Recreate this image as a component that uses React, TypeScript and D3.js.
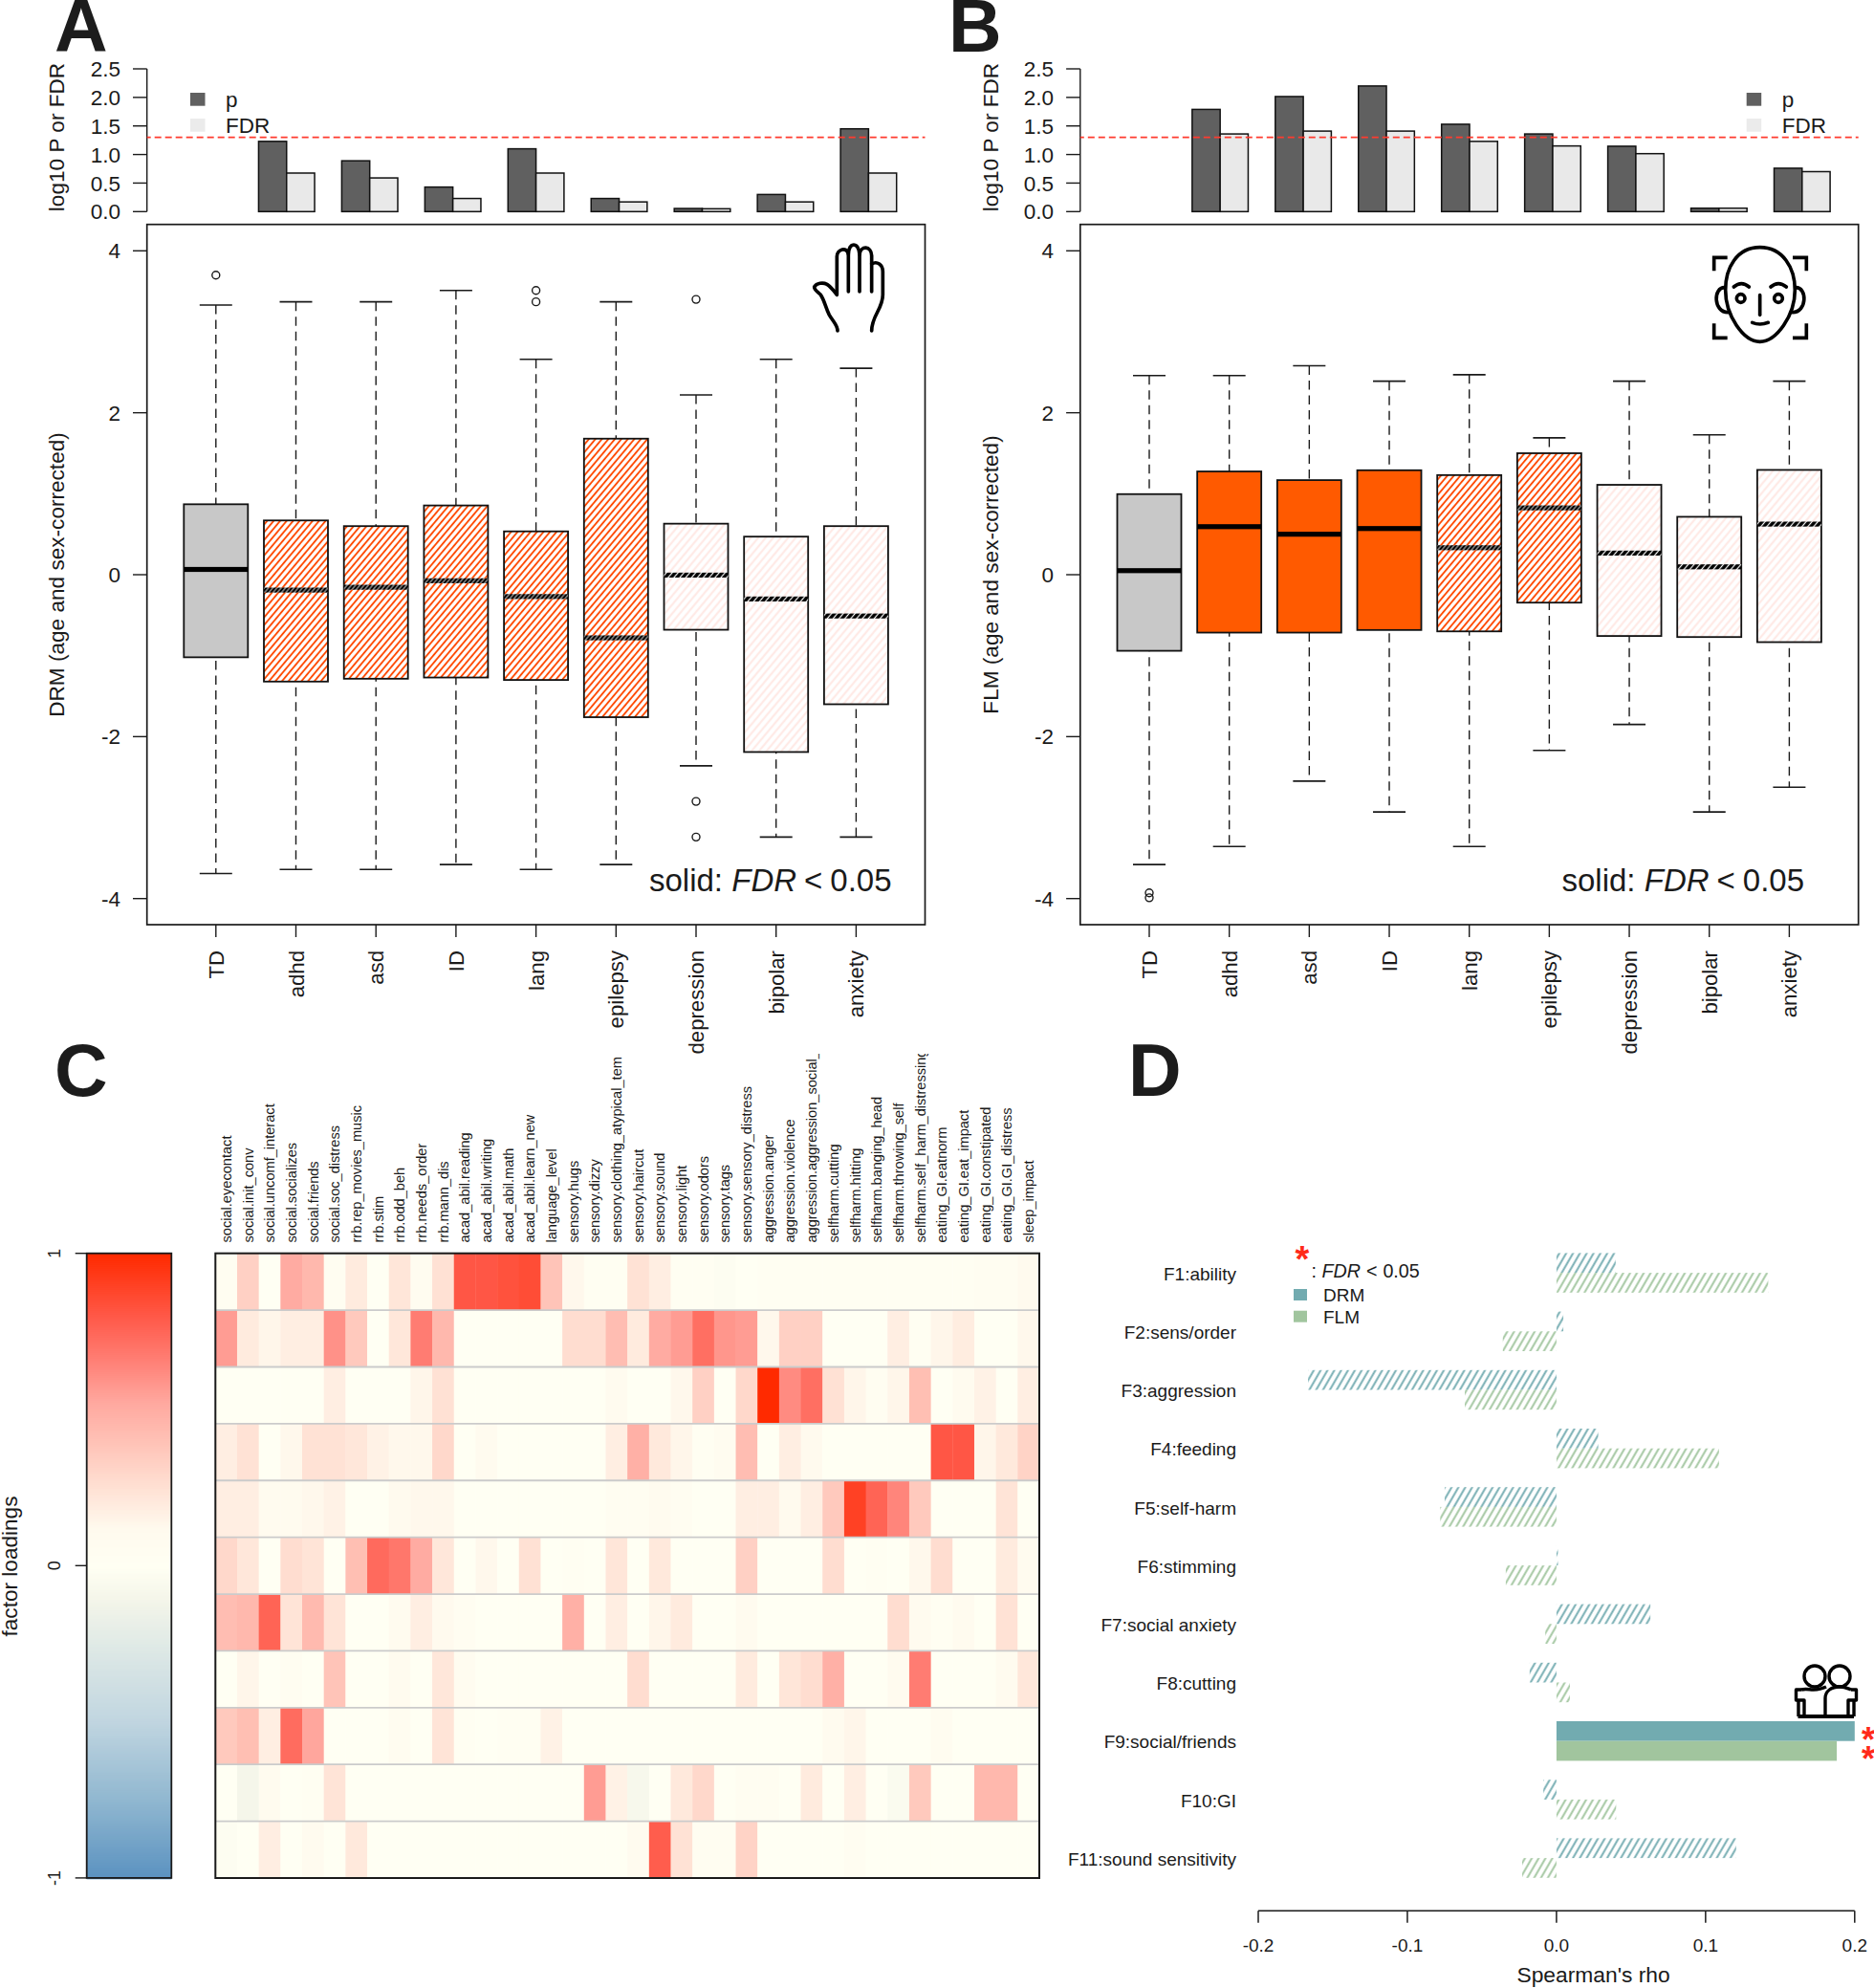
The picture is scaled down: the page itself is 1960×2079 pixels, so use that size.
import React from 'react';
import * as d3 from 'd3';

const W = 1960;
const H = 2079;
const FONT = '"Liberation Sans", Arial, sans-serif';
const INK = '#1a1a1a';
const ORANGE = '#ff5a00';

// panels A and B
const categories = ['TD', 'adhd', 'asd', 'ID', 'lang', 'epilepsy', 'depression', 'bipolar', 'anxiety'];

const drmP = [null, 1.23, 0.89, 0.43, 1.10, 0.23, 0.055, 0.30, 1.45];
const drmFdr = [null, 0.675, 0.59, 0.23, 0.675, 0.17, 0.05, 0.17, 0.675];
const flmP = [null, 1.79, 2.015, 2.2, 1.53, 1.36, 1.145, 0.06, 0.76];
const flmFdr = [null, 1.36, 1.41, 1.41, 1.23, 1.15, 1.015, 0.06, 0.70];

const drmUpper = [3.33, 3.37, 3.37, 3.51, 2.66, 3.37, 2.22, 2.66, 2.55];
const drmQ3 = [0.87, 0.67, 0.60, 0.855, 0.535, 1.68, 0.63, 0.47, 0.60];
const drmMedian = [0.065, -0.19, -0.155, -0.075, -0.27, -0.78, -0.005, -0.30, -0.51];
const drmQ1 = [-1.02, -1.32, -1.285, -1.27, -1.30, -1.76, -0.68, -2.19, -1.60];
const drmLower = [-3.69, -3.64, -3.64, -3.58, -3.64, -3.58, -2.36, -3.24, -3.24];
const drmOutliers = [[3.70], [], [], [], [3.51, 3.37], [], [3.40, -2.80, -3.24], [], []];
const drmStyle = ['ctrl', 'dense', 'dense', 'dense', 'dense', 'dense', 'faint', 'faint', 'faint'];

const flmUpper = [2.46, 2.46, 2.58, 2.39, 2.47, 1.69, 2.39, 1.727, 2.39];
const flmQ3 = [0.995, 1.275, 1.168, 1.29, 1.23, 1.50, 1.11, 0.715, 1.294];
const flmMedian = [0.05, 0.593, 0.50, 0.57, 0.333, 0.825, 0.267, 0.097, 0.625];
const flmQ1 = [-0.94, -0.715, -0.715, -0.683, -0.70, -0.345, -0.757, -0.77, -0.833];
const flmLower = [-3.58, -3.357, -2.55, -2.93, -3.357, -2.17, -1.85, -2.93, -2.625];
const flmOutliers = [[-3.93, -3.99], [], [], [], [], [], [], [], []];
const flmStyle = ['ctrl', 'solid', 'solid', 'solid', 'dense', 'dense', 'faint', 'faint', 'faint'];

const barTicks = [0, 0.5, 1, 1.5, 2, 2.5];
const boxTicks = [-4, -2, 0, 2, 4];

// panel C
const items = [
  'social.eyecontact', 'social.init_conv', 'social.uncomf_interact', 'social.socializes', 'social.friends',
  'social.soc_distress', 'rrb.rep_movies_music', 'rrb.stim', 'rrb.odd_beh', 'rrb.needs_order', 'rrb.mann_dis',
  'acad_abil.reading', 'acad_abil.writing', 'acad_abil.math', 'acad_abil.learn_new', 'language_level',
  'sensory.hugs', 'sensory.dizzy', 'sensory.clothing_atypical_tem', 'sensory.haircut', 'sensory.sound',
  'sensory.light', 'sensory.odors', 'sensory.tags', 'sensory.sensory_distress', 'aggression.anger',
  'aggression.violence', 'aggression.aggression_social_', 'selfharm.cutting', 'selfharm.hitting',
  'selfharm.banging_head', 'selfharm.throwing_self', 'selfharm.self_harm_distressing', 'eating_GI.eatnorm',
  'eating_GI.eat_impact', 'eating_GI.constipated', 'eating_GI.GI_distress', 'sleep_impact',
];

const loadF1 = [.04, .33, 0, .51, .45, .06, .2, 0, .225, .08, .25, .81, .81, .83, .85, .39, .13, .03, .03, .245, .18, .03, .03, -.02, 0, .02, .02, .02, .02, .02, .02, .02, .03, .02, .02, .06, .06, .11];
const loadF2 = [.565, .2, .14, .18, .18, .6, .365, 0, .22, .67, .45, 0, 0, 0, 0, 0, .27, .27, .425, .2, .51, .565, .72, .585, .565, .13, .33, .33, 0, 0, 0, .18, .02, .14, .19, 0, 0, .13];
const loadF3 = [0, 0, 0, 0, 0, .18, 0, 0, 0, .14, .25, 0, 0, 0, 0, 0, 0, 0, .1, 0, 0, .13, .33, 0, .295, 1, .62, .72, .25, .14, .04, .14, .415, 0, .1, .16, 0, .18];
const loadF4 = [.18, .245, 0, .13, .245, .245, .22, .16, .13, .13, .295, 0, .1, 0, 0, 0, 0, 0, .18, .485, .21, .14, .02, .08, .425, 0, .18, .11, 0, 0, 0, 0, 0, .81, .81, .14, .21, .32];
const loadF5 = [.18, .18, .1, .1, .13, .16, 0, 0, .11, .13, .13, 0, 0, 0, 0, 0, 0, 0, .04, .06, .1, .06, 0, 0, .18, .18, .11, .18, .365, .9, .76, .64, .365, 0, 0, 0, .235, 0];
const loadF6 = [.295, .22, 0, .27, .235, 0, .415, .735, .69, .51, .22, 0, .13, 0, .25, 0, .02, 0, .225, 0, .21, 0, 0, 0, .33, 0, 0, 0, .27, 0, .02, 0, .13, .27, 0, 0, .2, .1];
const loadF7 = [.425, .45, .76, .235, .44, .235, 0, 0, .1, .18, .11, .06, 0, 0, 0, 0, .485, 0, .18, 0, .14, .2, 0, 0, .1, 0, 0, 0, 0, 0, 0, .27, .1, .02, .1, 0, .245, 0];
const loadF8 = [0, .14, 0, .06, 0, .39, 0, 0, .1, 0, .22, .08, 0, 0, 0, 0, 0, 0, 0, .27, 0, 0, 0, 0, .2, 0, .225, .27, .485, 0, 0, .1, .67, 0, 0, 0, .1, .22];
const loadF9 = [.365, .415, .18, .73, .53, 0, 0, 0, .08, 0, .235, .02, 0, .02, .02, .16, 0, 0, 0, 0, 0, 0, 0, 0, 0, 0, 0, 0, .1, .14, 0, 0, 0, .08, 0, 0, 0, 0];
const loadF10 = [0, -.1, .1, 0, .02, .235, 0, 0, 0, 0, 0, 0, 0, 0, 0, 0, 0, .565, .16, -.08, 0, .21, .295, 0, .06, .06, 0, .2, 0, .18, 0, -.05, .365, 0, 0, .45, .45, 0];
const loadF11 = [-.02, 0, .18, 0, .1, 0, .21, 0, 0, 0, 0, 0, 0, 0, 0, 0, 0, 0, 0, .1, .785, .245, .04, .04, .32, 0, 0, 0, 0, .06, 0, 0, 0, 0, 0, 0, 0, 0];
const loadings = [loadF1, loadF2, loadF3, loadF4, loadF5, loadF6, loadF7, loadF8, loadF9, loadF10, loadF11];

// panel D
const factors = ['F1:ability', 'F2:sens/order', 'F3:aggression', 'F4:feeding', 'F5:self-harm', 'F6:stimming',
  'F7:social anxiety', 'F8:cutting', 'F9:social/friends', 'F10:GI', 'F11:sound sensitivity'];
const rhoDrm = [0.0397, 0.0046, -0.1666, 0.028, -0.075, 0.001, 0.063, -0.018, 0.2, -0.0088, 0.1205];
const rhoFlm = [0.142, -0.036, -0.0615, 0.109, -0.078, -0.034, -0.0075, 0.009, 0.188, 0.04, -0.023];
const rhoTicks = [-0.2, -0.1, 0, 0.1, 0.2];
const drmColor = '#72abb0';
const flmColor = '#a1c59e';

const heatColor = d3.scaleLinear<string>()
  .domain([-1, -0.75, -0.5, -0.25, -0.1, 0, 0.12, 0.255, 0.39, 0.525, 0.66, 0.795, 1])
  .range(['#5b92c0', '#90b7d0', '#c0d5e0', '#e0eae6', '#f5f6ea', '#fffff3', '#fffaee', '#ffe0d3', '#ffc4b8', '#ffa89f', '#ff7f75', '#ff5a4a', '#ff2a00']);

// R style tick labels use a plain hyphen
const fmt1 = (v: number) => d3.format('.1f')(v).replace('\u2212', '-');

function Hatch({ id, color, bg, gap, width, angle }: any) {
  return (
    <pattern id={id} patternUnits="userSpaceOnUse" width={gap} height={gap} patternTransform={`rotate(${angle})`}>
      <rect width={gap} height={gap} fill={bg} />
      <line x1={gap / 2} x2={gap / 2} y1={0} y2={gap} stroke={color} strokeWidth={width} />
    </pattern>
  );
}

function BarStrip({ left, right, groupStart, p, fdr, tickLen, labelGap, titleX, legendX }: any) {
  const y = d3.scaleLinear().domain([0, 2.5]).range([221.3, 72]);
  const x = d3.scalePoint<string>().domain(categories).range([groupStart, groupStart + 8 * 86.95]);
  const bw = 29.3;
  return (
    <g fontFamily={FONT} fill={INK}>
      <text transform={`translate(${titleX},143.5) rotate(-90)`} textAnchor="middle" fontSize={22.6}>log10 P or FDR</text>
      <line x1={left} x2={left} y1={y(0)} y2={y(2.5)} stroke={INK} strokeWidth={1.4} />
      {barTicks.map(t => (
        <g key={t}>
          <line x1={left - tickLen} x2={left} y1={y(t)} y2={y(t)} stroke={INK} strokeWidth={1.4} />
          <text x={left - labelGap} y={y(t)} dy=".36em" textAnchor="end" fontSize={22.5}>{fmt1(t)}</text>
        </g>
      ))}
      {categories.map((c, i) => p[i] == null ? null : (
        <g key={c} stroke="#111" strokeWidth={1.5}>
          <rect x={x(c)! - bw} width={bw} y={y(p[i])} height={y(0) - y(p[i])} fill="#606060" />
          <rect x={x(c)!} width={bw} y={y(fdr[i])} height={y(0) - y(fdr[i])} fill="#e9e9e9" />
        </g>
      ))}
      <line x1={left} x2={right} y1={y(1.3)} y2={y(1.3)} stroke="#ff3b2f" strokeWidth={1.9} strokeDasharray="7 4" strokeDashoffset={3} />
      <rect x={legendX} y={97} width={15.5} height={13.7} fill="#606060" />
      <rect x={legendX} y={124} width={15.5} height={13.7} fill="#ebebeb" />
      <text x={legendX + 37} y={112} fontSize={22.5}>p</text>
      <text x={legendX + 37} y={139} fontSize={22.5}>FDR</text>
    </g>
  );
}

function BoxPanel({ left, right, first, last, upper, q3, median, q1, lower, outliers, styles, title, titleX, noteX }: any) {
  const y = d3.scaleLinear().domain([-4, 4]).range([939.7, 262.3]);
  const x = d3.scalePoint<string>().domain(categories).range([first, last]);
  const boxW = 67;
  const capW = 34;
  const fills: any = { ctrl: '#c8c8c8', solid: ORANGE, dense: `url(#dense)`, faint: `url(#faint)` };
  const medFills: any = { ctrl: '#000', solid: '#000', dense: 'url(#medDense)', faint: 'url(#medFaint)' };
  return (
    <g fontFamily={FONT} fill={INK}>
      <rect x={left} y={234.7} width={right - left} height={967 - 234.7} fill="none" stroke={INK} strokeWidth={1.7} />
      <text transform={`translate(${titleX},601) rotate(-90)`} textAnchor="middle" fontSize={22.6}>{title}</text>
      {boxTicks.map(t => (
        <g key={t}>
          <line x1={left - 14.7} x2={left} y1={y(t)} y2={y(t)} stroke={INK} strokeWidth={1.4} />
          <text x={left - 27.7} y={y(t)} dy=".36em" textAnchor="end" fontSize={22.5}>{t}</text>
        </g>
      ))}
      {categories.map((c, i) => {
        const cx = x(c)!;
        return (
          <g key={c}>
            <line x1={cx} x2={cx} y1={967} y2={980} stroke={INK} strokeWidth={1.4} />
            <text transform={`translate(${cx},994) rotate(-90)`} dy=".36em" textAnchor="end" fontSize={22.2}>{c}</text>
            <line x1={cx} x2={cx} y1={y(upper[i])} y2={y(lower[i])} stroke={INK} strokeWidth={1.4} strokeDasharray="9.5 6" />
            <line x1={cx - capW / 2} x2={cx + capW / 2} y1={y(upper[i])} y2={y(upper[i])} stroke={INK} strokeWidth={1.6} />
            <line x1={cx - capW / 2} x2={cx + capW / 2} y1={y(lower[i])} y2={y(lower[i])} stroke={INK} strokeWidth={1.6} />
            <rect x={cx - boxW / 2} width={boxW} y={y(q3[i])} height={y(q1[i]) - y(q3[i])} fill={fills[styles[i]]} stroke="#111" strokeWidth={1.8} />
            <rect x={cx - boxW / 2} width={boxW} y={y(median[i]) - 2.6} height={5.2} fill={medFills[styles[i]]} />
            {outliers[i].map((o: number) => (
              <circle key={o} cx={cx} cy={y(o)} r={4} fill="none" stroke={INK} strokeWidth={1.4} />
            ))}
          </g>
        );
      })}
      <text x={noteX} y={932} fontSize={33}>solid: <tspan fontStyle="italic">FDR</tspan><tspan dx={8}>&lt;</tspan><tspan dx={8}>0.05</tspan></text>
    </g>
  );
}

function HandIcon() {
  return (
    <g transform="translate(830,240) scale(0.3333)" fill="none" stroke="#000" strokeWidth={11} strokeLinecap="round" strokeLinejoin="round">
      <path d="M138 318 C138 300 125 290 112 268 C100 245 97 222 85 205 C75 195 65 190 65 180 C72 168 92 165 105 172 C118 180 128 195 136 205 L136 85 C136 62 168 52 172 78 L172 195" />
      <path d="M172 78 C172 38 205 38 207 78 L207 195" />
      <path d="M207 78 C210 50 244 50 245 82 L245 195" />
      <path d="M245 108 C262 98 280 110 280 132 L280 205 C280 250 245 270 245 318" />
    </g>
  );
}

function FaceIcon() {
  return (
    <g transform="translate(1780,250) scale(0.3333)" fill="none" stroke="#000" strokeWidth={11} strokeLinecap="round">
      <path d="M182 26 C110 26 74 90 74 160 C74 240 130 322 182 322 C234 322 292 240 292 160 C292 90 254 26 182 26 Z" />
      <path d="M72 152 C35 150 35 230 82 230" />
      <path d="M294 152 C331 150 331 230 284 230" />
      <path d="M38 100 L38 58 L80 58 M285 58 L328 58 L328 100 M38 265 L38 310 L80 310 M285 310 L328 310 L328 265" strokeLinecap="butt" />
      <circle cx={122} cy={186} r={13} />
      <circle cx={240} cy={186} r={13} />
      <path d="M100 150 Q124 130 148 150 M216 150 Q240 130 265 150" />
      <path d="M182 176 L182 238" />
      <path d="M158 262 Q182 272 208 262" />
    </g>
  );
}

function FriendsIcon() {
  return (
    <g fill="none" stroke="#000" strokeWidth={3.4} strokeLinejoin="round">
      <ellipse cx={1898} cy={1753} rx={11} ry={11} />
      <ellipse cx={1924} cy={1753} rx={11} ry={11} />
      <path d="M1880.5 1795 L1939 1795" strokeWidth={3.8} />
      <path d="M1881 1795 L1881 1778 M1939 1795 L1939 1778" />
      <path d="M1884 1767 L1878.5 1767 L1878.5 1778 L1887 1778 L1887 1795" />
      <path d="M1936 1767 L1941.5 1767 L1941.5 1778 L1933 1778 L1933 1795" />
      <path d="M1884 1767 C1892 1765 1898 1770 1910 1764 M1909 1795 L1909 1776 C1909 1768 1916 1764 1924 1764 C1930 1764 1933 1766 1936 1767" />
    </g>
  );
}

function Heatmap() {
  const left = 225.3, right = 1087, top = 1310.7, bottom = 1964;
  const x = d3.scaleBand<number>().domain(d3.range(items.length)).range([left, right]);
  const y = d3.scaleBand<number>().domain(d3.range(loadings.length)).range([top, bottom]);
  const cy = d3.scaleLinear().domain([1, -1]).range([1310.7, 1963.9]);
  const barSteps = d3.range(1, -1, -2 / 326.6);
  return (
    <g fontFamily={FONT} fill={INK}>
      <clipPath id="labelClip"><rect x={left} y={1102} width={right - left} height={210} /></clipPath>
      <g clipPath="url(#labelClip)">
        {items.map(d => (
          <text key={d} transform={`translate(${x(items.indexOf(d))! + x.bandwidth() / 2},1299.5) rotate(-90)`} dy=".36em" fontSize={14.6}>{d}</text>
        ))}
      </g>
      {loadings.map((row, r) => row.map((v, c) => (
        <rect key={`${r}-${c}`} x={x(c)} y={y(r)} width={x.bandwidth() + 0.4} height={y.bandwidth()} fill={heatColor(v)} />
      )))}
      {loadings.slice(1).map((_, r) => (
        <line key={r} x1={left} x2={right} y1={y(r + 1)} y2={y(r + 1)} stroke="#cbcbcb" strokeWidth={1.8} />
      ))}
      <rect x={left} y={top} width={right - left} height={bottom - top} fill="none" stroke={INK} strokeWidth={2} />

      {barSteps.map(v => (
        <rect key={v} x={90.7} width={88.6} y={cy(v)} height={2.6} fill={heatColor(v)} />
      ))}
      <rect x={90.7} y={1310.7} width={88.6} height={653.2} fill="none" stroke={INK} strokeWidth={1.8} />
      {[1, 0, -1].map(t => (
        <g key={t}>
          <line x1={78.7} x2={90.7} y1={cy(t)} y2={cy(t)} stroke={INK} strokeWidth={1.4} />
          <text transform={`translate(57,${cy(t)}) rotate(-90)`} dy=".36em" textAnchor="middle" fontSize={18}>{t}</text>
        </g>
      ))}
      <text transform="translate(18,1638) rotate(-90)" textAnchor="middle" fontSize={22.6}>factor loadings</text>
    </g>
  );
}

function RhoBars() {
  const x = d3.scaleLinear().domain([-0.2, 0.2]).range([1316, 1939.8]);
  const y = d3.scaleBand<string>().domain(factors).range([1300.5, 1300.5 + 61.2 * factors.length]).paddingInner(1 - 41.4 / 61.2).paddingOuter((1 - 41.4 / 61.2) / 2);
  const h = y.bandwidth() / 2;
  return (
    <g fontFamily={FONT} fill={INK}>
      {factors.map((f, i) => {
        const sig = i === 8;
        return (
          <g key={f}>
            <text x={1293} y={y(f)! + h + 0.8} dy=".36em" textAnchor="end" fontSize={19}>{f}</text>
            <rect x={Math.min(x(0), x(rhoDrm[i]))} width={Math.abs(x(rhoDrm[i]) - x(0))} y={y(f)} height={h}
              fill={sig ? drmColor : 'url(#hatchDrm)'} />
            <rect x={Math.min(x(0), x(rhoFlm[i]))} width={Math.abs(x(rhoFlm[i]) - x(0))} y={y(f)! + h} height={h}
              fill={sig ? flmColor : 'url(#hatchFlm)'} />
          </g>
        );
      })}
      <text x={1954} y={1832} textAnchor="middle" fontSize={36} fontWeight="bold" fill="#ff2a1a">*</text>
      <text x={1954} y={1852} textAnchor="middle" fontSize={36} fontWeight="bold" fill="#ff2a1a">*</text>

      <line x1={x(-0.2)} x2={x(0.2)} y1={1998.3} y2={1998.3} stroke={INK} strokeWidth={1.5} />
      {rhoTicks.map(t => (
        <g key={t}>
          <line x1={x(t)} x2={x(t)} y1={1998.3} y2={2010.7} stroke={INK} strokeWidth={1.5} />
          <text x={x(t)} y={2034} dy=".36em" textAnchor="middle" fontSize={19}>{fmt1(t)}</text>
        </g>
      ))}
      <text x={1666.6} y={2073} textAnchor="middle" fontSize={22.8}>Spearman's rho</text>

      <text x={1362} y={1330} textAnchor="middle" fontSize={38} fontWeight="bold" fill="#ff2a1a">*</text>
      <text x={1371.5} y={1336} fontSize={19.7}>: <tspan fontStyle="italic">FDR</tspan><tspan dx={6}>&lt;</tspan><tspan dx={6}>0.05</tspan></text>
      <rect x={1353} y={1348} width={14} height={12} fill={drmColor} />
      <rect x={1353} y={1370.7} width={14} height={12} fill={flmColor} />
      <text x={1384} y={1354} dy=".36em" fontSize={19}>DRM</text>
      <text x={1384} y={1377} dy=".36em" fontSize={19}>FLM</text>
    </g>
  );
}

export default function App() {
  return (
    <svg width={W} height={H} viewBox={`0 0 ${W} ${H}`} style={{ position: 'absolute', left: 0, top: 0, display: 'block', background: '#fff' }}>
      <defs>
        <Hatch id="dense" color="#ff4a00" bg="#fff" gap={5.2} width={1.9} angle={40} />
        <Hatch id="faint" color="#ffeae6" bg="#fff" gap={6} width={2.2} angle={40} />
        <Hatch id="medDense" color="#ffffff" bg="#000" gap={3.4} width={0.8} angle={40} />
        <Hatch id="medFaint" color="#ffffff" bg="#000" gap={4.7} width={1.2} angle={40} />
        <Hatch id="hatchDrm" color={drmColor} bg="none" gap={6.2} width={1.9} angle={30} />
        <Hatch id="hatchFlm" color={flmColor} bg="none" gap={6.2} width={1.9} angle={30} />
      </defs>

      <g fontFamily={FONT} fontWeight="bold" fontSize={77} fill="#1c1c1c">
        <text x={57} y={54}>A</text>
        <text x={992} y={54}>B</text>
        <text x={57} y={1146}>C</text>
        <text x={1180} y={1146}>D</text>
      </g>

      <BarStrip left={153.7} right={967.5} groupStart={212.8} p={drmP} fdr={drmFdr} tickLen={14.7} labelGap={27.7} titleX={67} legendX={199} />
      <BoxPanel left={153.7} right={967.5} first={225.8} last={895.4} upper={drmUpper} q3={drmQ3} median={drmMedian} q1={drmQ1} lower={drmLower}
        outliers={drmOutliers} styles={drmStyle} title="DRM (age and sex-corrected)" titleX={66.5} noteX={679} />
      <HandIcon />

      <BarStrip left={1129.8} right={1943.7} groupStart={1189.2} p={flmP} fdr={flmFdr} tickLen={14.7} labelGap={27.7} titleX={1043.5} legendX={1826.7} />
      <BoxPanel left={1129.8} right={1943.7} first={1202} last={1871.4} upper={flmUpper} q3={flmQ3} median={flmMedian} q1={flmQ1} lower={flmLower}
        outliers={flmOutliers} styles={flmStyle} title="FLM (age and sex-corrected)" titleX={1044} noteX={1633.5} />
      <FaceIcon />

      <Heatmap />
      <RhoBars />
      <FriendsIcon />
    </svg>
  );
}
